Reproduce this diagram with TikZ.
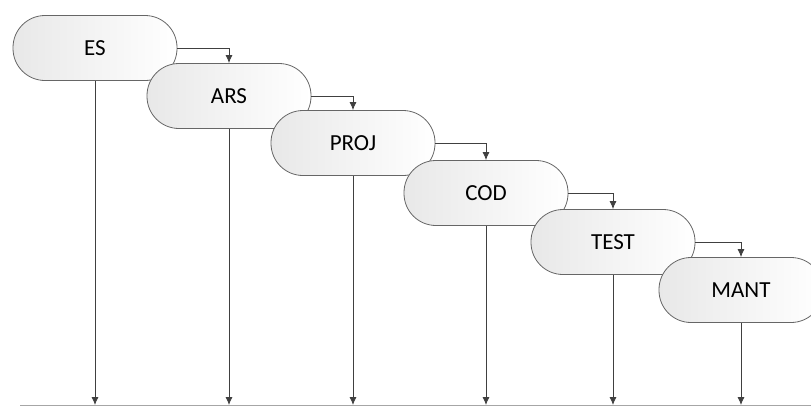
\documentclass[tikz,border=0pt]{standalone}
\usepackage{fontspec}
\setmainfont{Carlito}
\usetikzlibrary{arrows.meta}

\tikzset{
  phase/.style={draw=black!60, line width=0.8pt, rounded corners=32pt,
    minimum width=164pt, minimum height=65pt,
    left color=black!9, right color=white,
    font=\fontsize{23}{26}\selectfont},
  flow/.style={draw=black!75, line width=0.8pt, -{Latex[length=8pt,width=7pt]}}
}

\begin{document}
\begin{tikzpicture}[x=1pt,y=-1pt]
	  \useasboundingbox (0,0) rectangle (811,407);
	  
	  \node[phase] (es) at (95,48) {ES};
	  \node[phase] (ars) at (229,96) {ARS};
	  \node[phase] (proj) at (353,143) {PROJ};
	  \node[phase] (cod) at (486,193) {COD};
	  \node[phase] (test) at (613,242) {TEST};
	  \node[phase] (mant) at (741,290) {MANT};
	  
	  \coordinate (base) at (0,405);
	  \coordinate (basel) at (20,405);
	  \coordinate (baser) at (811,405);
	  \draw[black!35, line width=1pt] (basel) -- (baser);
	  
	  \draw[flow] (es.east) -| (ars.north);
	  \draw[flow] (ars.east) -| (proj.north);
	  \draw[flow] (proj.east) -| (cod.north);
	  \draw[flow] (cod.east) -| (test.north);
	  \draw[flow] (test.east) -| (mant.north);
	  
	  \draw[flow] (es.south) -- (es.south |- base);
	  \draw[flow] (ars.south) -- (ars.south |- base);
	  \draw[flow] (proj.south) -- (proj.south |- base);
	  \draw[flow] (cod.south) -- (cod.south |- base);
	  \draw[flow] (test.south) -- (test.south |- base);
	  \draw[flow] (mant.south) -- (mant.south |- base);
	\end{tikzpicture}
\end{document}
